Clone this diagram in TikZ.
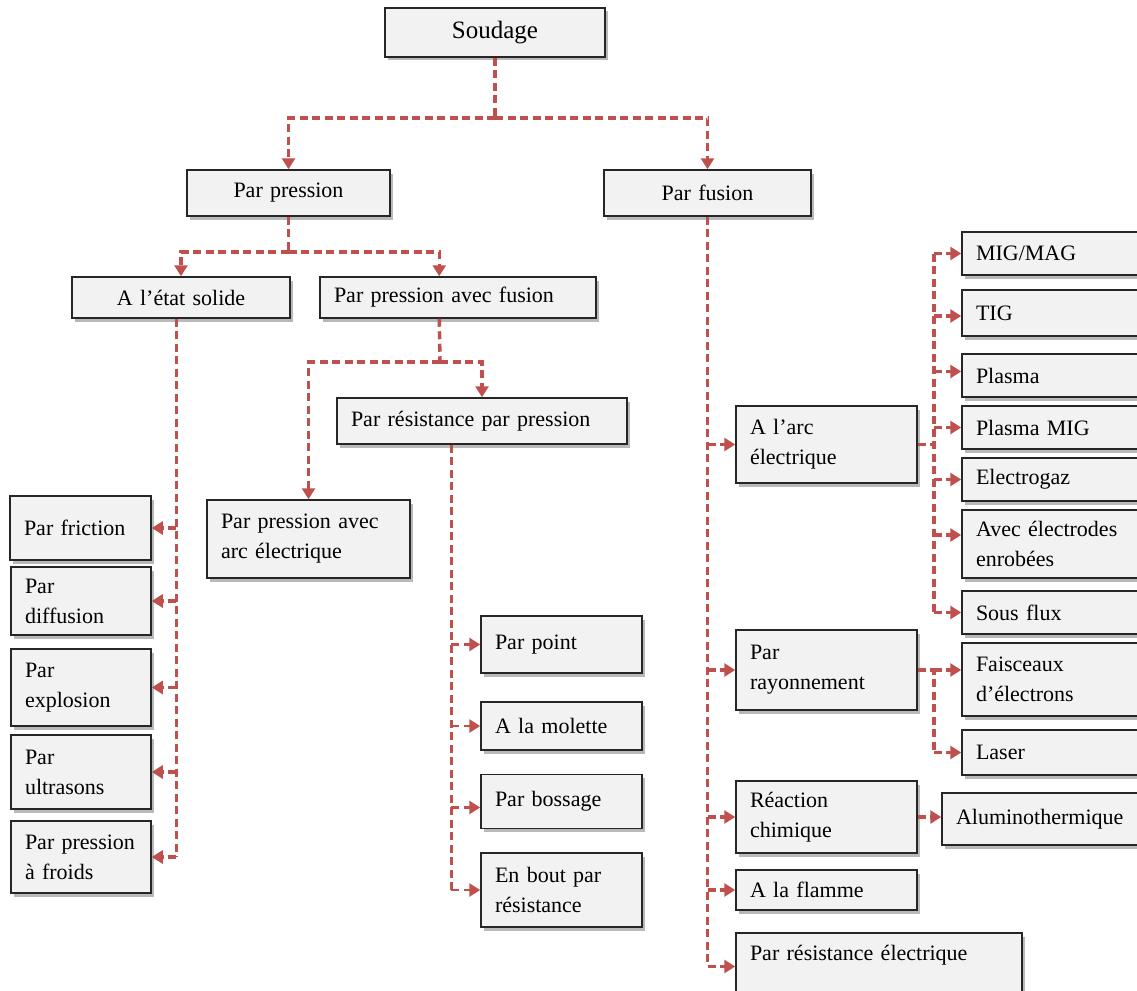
\documentclass[tikz,border=0pt]{standalone}
\usepackage{fontspec}
\setmainfont{Liberation Serif}
\usetikzlibrary{arrows.meta,shadows,calc}
\definecolor{cred}{HTML}{C0504D}
\definecolor{cfill}{HTML}{F2F2F2}
\begin{document}
\begin{tikzpicture}[x=1pt,y=-1pt,
  font=\fontsize{22}{30}\selectfont,
  box/.style={draw=black!85, line width=1.5pt, fill=cfill,
    drop shadow={shadow xshift=3pt, shadow yshift=-3.5pt, fill=black!55},
    inner xsep=14pt, inner ysep=0pt, align=left},
  cbox/.style={box, align=center},
  trunk/.style={draw=cred, line width=3.5pt, dash pattern=on 8pt off 4.5pt},
  conn/.style={trunk, -{Triangle[length=11pt,width=13pt]}}]
\useasboundingbox (0,0) rectangle (1137,990);

% level 0-2
\node[cbox, text width=192pt, minimum height=49pt, font=\fontsize{25}{30}\selectfont] (soud) at (495,32.5) {Soudage};
\node[cbox, text width=175pt, minimum height=46pt] (ppres) at (288.5,193) {Par pression};
\node[cbox, text width=179pt, minimum height=46pt] (pfus) at (707.5,193) {Par fusion};
\node[cbox, text width=190pt, minimum height=41pt] (etat) at (181,297.5) {A l’état solide};
\node[box, text width=248pt, minimum height=41pt] (pavf) at (458,297.5) {Par pression avec fusion};
\node[box, text width=262pt, minimum height=46pt] (rpp) at (482,421) {Par résistance par pression};
\node[box, text width=175pt, minimum height=78pt] (parc) at (308.5,539) {Par pression avec\\arc électrique};

% solid state
\node[box, text width=113pt, minimum height=64pt] (fric) at (80.5,528) {Par friction};
\node[box, text width=112pt, minimum height=68pt] (diff) at (81,601) {Par\\diffusion};
\node[box, text width=112pt, minimum height=77pt] (expl) at (81,687.5) {Par\\explosion};
\node[box, text width=112pt, minimum height=74pt] (ultr) at (81,772) {Par\\ultrasons};
\node[box, text width=112pt, minimum height=72pt] (froid) at (81,857) {Par pression\\à froids};

% resistance
\node[box, text width=133pt, minimum height=57pt] (point) at (561.5,644.5) {Par point};
\node[box, text width=133pt, minimum height=48pt] (molet) at (561.5,726) {A la molette};
\node[box, text width=133pt, minimum height=54pt] (bossage) at (561.5,801.5) {Par bossage};
\node[box, text width=133pt, minimum height=74pt] (bout) at (561.5,890) {En bout par\\résistance};

% fusion
\node[box, text width=153pt, minimum height=77pt] (arc) at (826.5,444.5) {A l’arc\\électrique};
\node[box, text width=153pt, minimum height=80pt] (rayon) at (826.5,670) {Par\\rayonnement};
\node[box, text width=153pt, minimum height=72pt] (reac) at (826.5,817) {Réaction\\chimique};
\node[box, text width=153pt, minimum height=40pt] (flamme) at (826.5,890) {A la flamme};
\node[box, text width=258pt, minimum height=67pt] (pre) at (879,966.5) {\raisebox{11pt}[\height][\depth]{Par résistance électrique}};

\node[box, text width=162pt, minimum height=43pt] (mig) at (1057,253.5) {MIG/MAG};
\node[box, text width=162pt, minimum height=46pt] (tig) at (1057,313) {TIG};
\node[box, text width=162pt, minimum height=43pt] (plasma) at (1057,375.5) {Plasma};
\node[box, text width=162pt, minimum height=43pt] (pmig) at (1057,427.5) {Plasma MIG};
\node[box, text width=162pt, minimum height=43pt] (egaz) at (1057,479.5) {Electrogaz};
\node[box, text width=162pt, minimum height=68pt] (enrob) at (1057,544) {Avec électrodes\\enrobées};
\node[box, text width=162pt, minimum height=43pt] (sflux) at (1057,612.5) {Sous flux};
\node[box, text width=162pt, minimum height=73pt] (faisc) at (1057,679.5) {Faisceaux\\d’électrons};
\node[box, text width=162pt, minimum height=45pt] (laser) at (1057,752.5) {Laser};
\node[box, text width=182pt, minimum height=52pt] (alu) at (1047,819) {Aluminothermique};

% connectors: top
\coordinate (j1) at (495,118);
\draw[trunk] (soud.south) -- (j1);
\draw[conn] (j1) -| (ppres.north);
\draw[conn] (j1) -| (pfus.north);

\coordinate (j2) at (288.5,252);
\draw[trunk] (ppres.south) -- (j2);
\draw[conn] (j2) -| (etat.north);
\draw[conn] (j2) -| ($(pavf.north west)+(120,0)$);

\coordinate (j3) at (440,362);
\draw[trunk] ($(pavf.south west)+(120,0)$) -- (j3);
\draw[conn] (j3) -| (parc.north);
\draw[conn] (j3) -| (rpp.north);

% solid state branch
\coordinate (t1) at ($(etat.south west)+(105,0)$);
\draw[trunk] (t1) -- (t1 |- froid.east);
\foreach \n in {fric,diff,expl,ultr,froid}
  \draw[conn] (t1 |- \n.east) -- (\n.east);

% resistance branch
\coordinate (t2) at ($(rpp.south west)+(115,0)$);
\coordinate (bw) at ([yshift=-6pt]bossage.west);
\draw[trunk, line width=2.8pt] (t2) -- (t2 |- bout.west);
\foreach \n in {point.west,molet.west,bw,bout.west}
  \draw[conn, line width=2.8pt] (t2 |- \n) -- (\n);

% fusion branch
\draw[trunk] (pfus.south) -- (pfus.south |- pre.west);
\foreach \n in {arc,rayon,reac,flamme,pre}
  \draw[conn] (pfus.south |- \n.west) -- (\n.west);

% arc branch
\coordinate (t3) at ($(arc.east)+(16,0)$);
\coordinate (tw) at ([yshift=-3pt]tig.west);
\coordinate (plw) at ([yshift=4pt]plasma.west);
\coordinate (ew) at ([yshift=9pt]enrob.west);
\draw[trunk] (arc.east) -- (t3);
\draw[trunk] (t3 |- mig.west) -- (t3 |- sflux.west);
\foreach \n in {mig.west,tw,plw,pmig.west,egaz.west,ew,sflux.west}
  \draw[conn] (t3 |- \n) -- (\n);

% rayonnement branch
\coordinate (t4) at ($(rayon.east)+(16,0)$);
\coordinate (fw) at (rayon.east -| faisc.west);
\draw[trunk] (rayon.east) -- (t4) -- (t4 |- laser.west);
\draw[conn] (t4) -- (fw);
\draw[conn] (t4 |- laser.west) -- (laser.west);

% chemical
\draw[conn] (reac.east) -- (reac.east -| alu.west);
\end{tikzpicture}
\end{document}
